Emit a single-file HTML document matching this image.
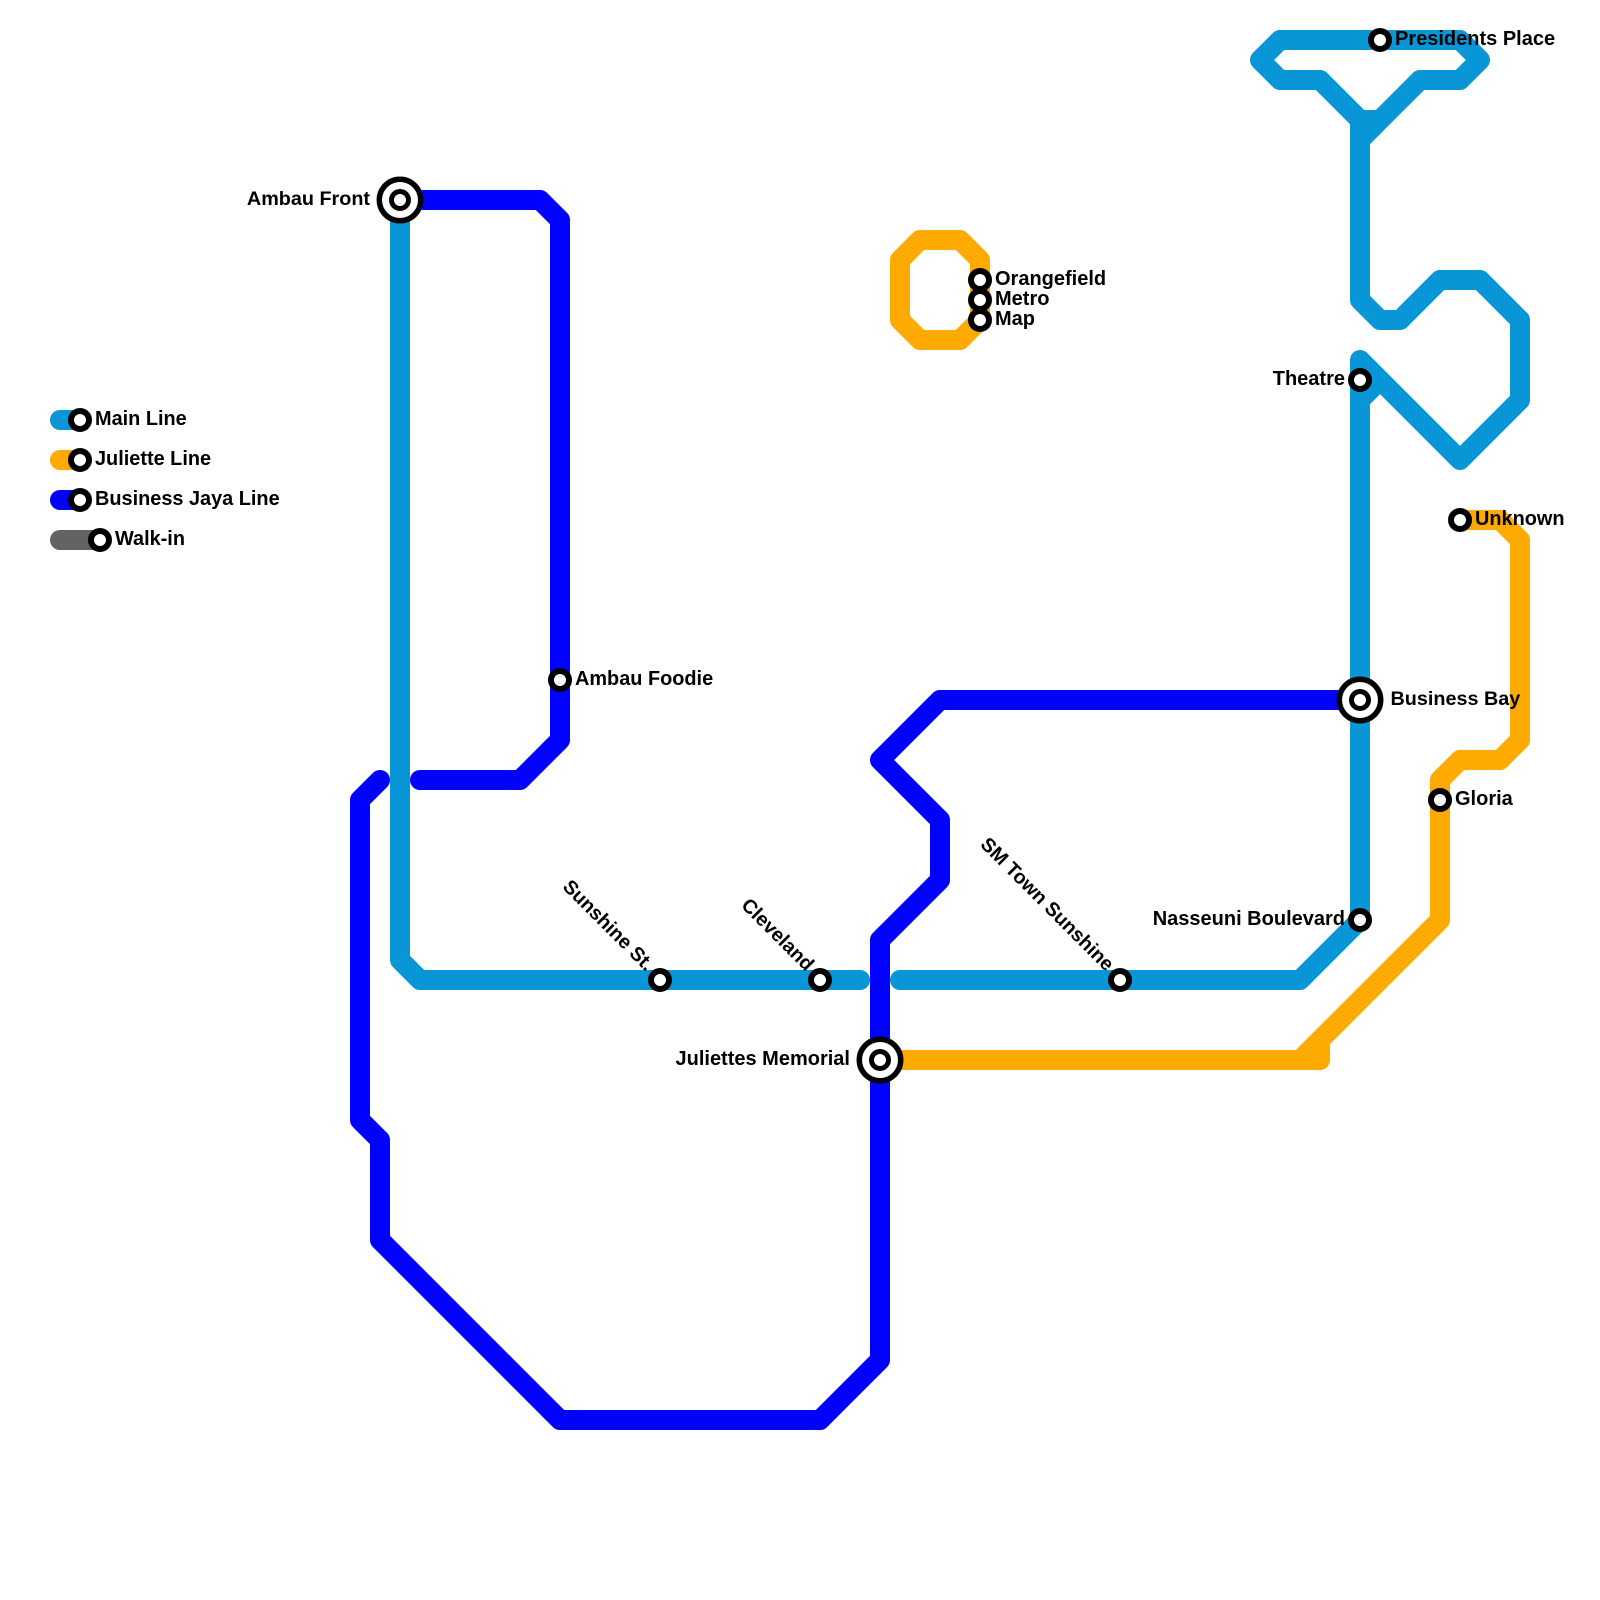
<!DOCTYPE html>
<html><head><meta charset="utf-8"><style>
html,body{margin:0;padding:0;background:#fff}
svg{display:block}
text{font-family:"Liberation Sans",sans-serif;font-weight:700;font-size:20px;fill:#000}
.l{fill:none;stroke-width:20;stroke-linecap:round;stroke-linejoin:round}
.m{stroke:#0896d7}.j{stroke:#ffaa00}.b{stroke:#0000ff}.w{stroke:#636363}
.s{fill:#fff;stroke:#000;stroke-width:6}
.i{stroke-width:5}
.o{stroke-width:5.5}
</style></head><body>
<svg width="1600" height="1600" viewBox="0 0 1600 1600" xmlns="http://www.w3.org/2000/svg">
<rect width="1600" height="1600" fill="#fff"/>
<path class="l m" d="M400 200V960L420 980H860"/>
<path class="l m" d="M900 980H1300L1360 920V360L1460 460L1520 400V320L1480 280H1440L1400 320H1380L1360 300V140L1420 80H1460L1480 60L1460 40H1280L1260 60L1280 80H1320L1360 120H1380"/>
<path class="l m" d="M1360 400L1380 380"/>
<path d="M1360 120V140" stroke="#0896d7" stroke-width="20" fill="none" stroke-linecap="butt"/>
<path class="l j" d="M900 1060H1320V1040"/>
<path class="l j" d="M1300 1060L1440 920V780L1460 760H1500L1520 740V540L1500 520H1460"/>
<path class="l j" d="M980 320L960 340H920L900 320V260L920 240H960L980 260V320"/>
<path class="l b" d="M420 200H540L560 220V740L520 780H420"/>
<path class="l b" d="M380 780L360 800V1120L380 1140V1240L560 1420H820L880 1360V940L940 880V820L880 760L940 700H1360"/>
<path class="l m" d="M60 420H80"/>
<path class="l j" d="M60 460H80"/>
<path class="l b" d="M60 500H80"/>
<path class="l w" d="M60 540H100"/>
<g class="s">
<circle cx="80" cy="420" r="9"/><circle cx="80" cy="460" r="9"/><circle cx="80" cy="500" r="9"/><circle cx="100" cy="540" r="9"/>
<circle cx="1380" cy="40" r="9"/><circle cx="1360" cy="380" r="9"/><circle cx="1460" cy="520" r="9"/><circle cx="1440" cy="800" r="9"/><circle cx="1360" cy="920" r="9"/>
<circle cx="560" cy="680" r="9"/><circle cx="660" cy="980" r="9"/><circle cx="820" cy="980" r="9"/><circle cx="1120" cy="980" r="9"/>
<circle cx="980" cy="280" r="9"/><circle cx="980" cy="300" r="9"/><circle cx="980" cy="320" r="9"/>
<circle class="o" cx="400" cy="200" r="20.7"/><circle class="i" cx="400" cy="200" r="8.5"/>
<circle class="o" cx="880" cy="1060" r="20.7"/><circle class="i" cx="880" cy="1060" r="8.5"/>
<circle class="o" cx="1360" cy="700" r="20.7"/><circle class="i" cx="1360" cy="700" r="8.5"/>
</g>
<text x="95" y="425" style="font-size:19.9px">Main Line</text>
<text x="95" y="465" style="font-size:19.9px">Juliette Line</text>
<text x="95" y="505" style="font-size:19.9px">Business Jaya Line</text>
<text x="115" y="545" style="font-size:19.9px">Walk-in</text>
<text x="1395" y="45">Presidents Place</text>
<text x="1345" y="385" text-anchor="end">Theatre</text>
<text x="1475" y="525" style="font-size:19.9px">Unknown</text>
<text x="1390.5" y="705" style="font-size:19.8px">Business Bay</text>
<text x="1455" y="805">Gloria</text>
<text x="1345" y="925" text-anchor="end">Nasseuni Boulevard</text>
<text x="370" y="205" text-anchor="end" style="font-size:19.8px">Ambau Front</text>
<text x="575" y="685" style="font-size:19.9px">Ambau Foodie</text>
<text x="850" y="1065" text-anchor="end">Juliettes Memorial</text>
<text x="995" y="285">Orangefield</text>
<text x="995" y="305">Metro</text>
<text x="995" y="325">Map</text>
<text transform="translate(646 972) rotate(45)" text-anchor="end" style="font-size:19.7px">Sunshine St.</text>
<text transform="translate(806 972) rotate(45)" text-anchor="end" style="font-size:19.7px">Cleveland</text>
<text transform="translate(1106 972) rotate(45)" text-anchor="end" style="font-size:19.7px">SM Town Sunshine</text>
</svg>
</body></html>
